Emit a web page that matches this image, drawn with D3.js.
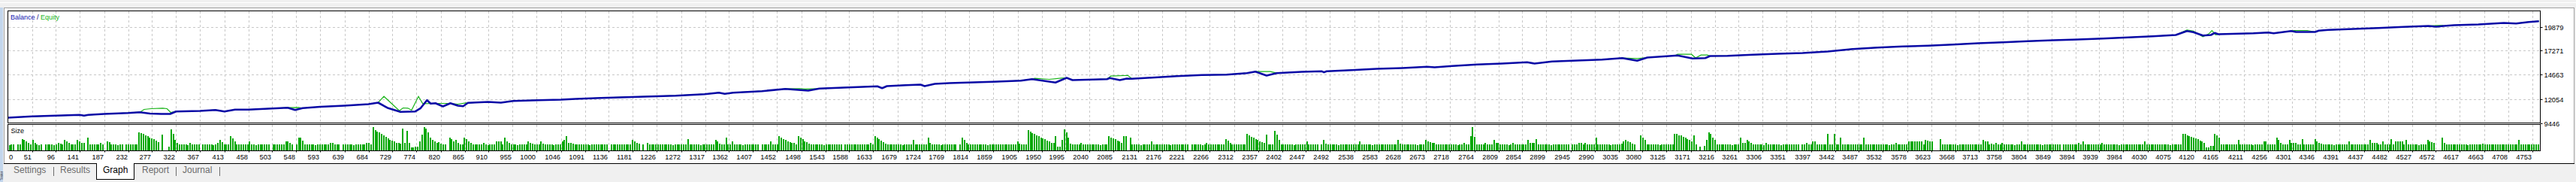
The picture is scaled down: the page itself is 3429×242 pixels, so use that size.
<!DOCTYPE html>
<html>
<head>
<meta charset="utf-8">
<script src="https://cdn.jsdelivr.net/npm/d3@7"></script>
<style>
body { margin: 0; background: #f0f0f0; overflow: hidden; }
text { font-family: "Liberation Sans", Arial, sans-serif; }
</style>
</head>
<body>
<svg id="chart"></svg>
<script>
const W = 3429, H = 242;

// trade numbers shown under the grid
const xTicks = [0, 51, 96, 141, 187, 232, 277, 322, 367, 413, 458, 503, 548, 593, 639, 684, 729, 774, 820, 865, 910, 955, 1000, 1046, 1091, 1136, 1181, 1226, 1272, 1317, 1362, 1407, 1452, 1498, 1543, 1588, 1633, 1679, 1724, 1769, 1814, 1859, 1905, 1950, 1995, 2040, 2085, 2131, 2176, 2221, 2266, 2312, 2357, 2402, 2447, 2492, 2538, 2583, 2628, 2673, 2718, 2764, 2809, 2854, 2899, 2945, 2990, 3035, 3080, 3125, 3171, 3216, 3261, 3306, 3351, 3397, 3442, 3487, 3532, 3578, 3623, 3668, 3713, 3758, 3804, 3849, 3894, 3939, 3984, 4030, 4075, 4120, 4165, 4211, 4256, 4301, 4346, 4391, 4437, 4482, 4527, 4572, 4617, 4663, 4708, 4753];
const yTicks = [9446, 12054, 14663, 17271, 19879];

// balance curve [trade, balance]
const balance = [
	[0, 10000], [51, 10155], [96, 10237], [141, 10318], [149, 10237], [157, 10318], [187, 10424],
	[232, 10530], [254, 10612], [273, 10465], [294, 10424], [311, 10424], [322, 10693], [367, 10750],
	[396, 10856], [413, 10693], [433, 10889], [458, 10889], [503, 11019], [532, 11100], [546, 10856],
	[560, 11052], [593, 11198], [639, 11320], [684, 11484], [702, 11647], [721, 11052], [744, 10644],
	[772, 10693], [782, 11052], [794, 11915], [801, 11541], [810, 11589], [824, 11239], [838, 11589],
	[852, 11320], [862, 11263], [871, 11622], [909, 11728], [933, 11647], [956, 11834], [1003, 11915],
	[1046, 11972], [1074, 12054], [1121, 12160], [1168, 12241], [1215, 12323], [1262, 12404],
	[1316, 12568], [1343, 12730], [1354, 12600], [1370, 12730], [1424, 12893], [1468, 13138],
	[1511, 12950], [1532, 13170], [1586, 13301], [1641, 13415], [1650, 13219], [1659, 13439],
	[1695, 13545], [1722, 13602], [1730, 13439], [1749, 13684], [1776, 13765], [1857, 13904],
	[1911, 14034], [1932, 14197], [1976, 13822], [1997, 14336], [2008, 14091], [2073, 14197],
	[2078, 14311], [2097, 14091], [2110, 14254], [2119, 14230], [2157, 14360], [2204, 14523],
	[2251, 14638], [2298, 14686], [2336, 14850], [2352, 15013], [2373, 14581], [2392, 14850],
	[2439, 14988], [2477, 15045], [2481, 14937], [2486, 15045], [2533, 15176], [2580, 15314],
	[2628, 15396], [2675, 15534], [2689, 15477], [2722, 15616], [2769, 15779], [2816, 15885],
	[2863, 16023], [2877, 15885], [2910, 16105], [2957, 16211], [3004, 16317], [3042, 16480],
	[3070, 16186], [3089, 16537], [3146, 16757], [3174, 16431], [3198, 16480], [3207, 16700],
	[3240, 16724], [3287, 16838], [3334, 16944], [3381, 17026], [3428, 17189], [3475, 17457],
	[3522, 17621], [3569, 17735], [3617, 17816], [3664, 17947], [3711, 18085], [3758, 18191],
	[3805, 18305], [3852, 18411], [3899, 18493], [3946, 18599], [3993, 18713], [4040, 18843],
	[4083, 18982], [4104, 19414], [4116, 19283], [4134, 18925], [4149, 18982], [4156, 19202],
	[4163, 19063], [4229, 19169], [4257, 19251], [4267, 19169], [4300, 19414], [4309, 19308],
	[4345, 19308], [4352, 19446], [4370, 19528], [4417, 19634], [4464, 19739], [4511, 19854],
	[4558, 19960], [4573, 19879], [4587, 19960], [4606, 20041], [4652, 20123], [4700, 20286],
	[4723, 20229], [4747, 20392], [4766, 20473]
];

// stretches where equity leaves the balance curve [trade, equity]
const equityParts = [
	[[254, 10612], [262, 10913], [275, 10995], [297, 11052], [305, 10995], [312, 10587], [322, 10693]],
	[[532, 11100], [552, 11130], [560, 11052]],
	[[697, 11589], [702, 11647], [713, 12323], [742, 10775], [749, 11076], [758, 11052], [765, 10832],
	 [778, 12323], [786, 11541], [810, 11565], [838, 11565], [852, 11483], [867, 11622]],
	[[1468, 13138], [1495, 13170], [1505, 13120], [1532, 13170]],
	[[1932, 14197], [1937, 14279], [1964, 14173], [1987, 14311], [1997, 14336]],
	[[2073, 14197], [2080, 14523], [2112, 14600], [2120, 14240]],
	[[2352, 15013], [2380, 15013], [2392, 14850]],
	[[3042, 16480], [3070, 16430], [3089, 16537]],
	[[3141, 16740], [3146, 16887], [3172, 16887], [3180, 16500], [3190, 16805], [3202, 16805], [3207, 16700]],
	[[4083, 18982], [4104, 19528], [4116, 19400], [4134, 18794], [4145, 19100], [4151, 19469], [4158, 19000], [4163, 19063]],
	[[4300, 19414], [4305, 19470], [4330, 19470], [4345, 19308]],
	[[4558, 19960], [4575, 20016], [4585, 20016], [4587, 19960]]
];

// lot size per bar, one bar every 4 trades, char index = hundredths of a lot
const lotChars = "0123456789abcdefghijklmnopqrstuvwxyzABCDEFGHIJ";
const sizeStep = 4;
const sizeCodes = [
	"aa9ab0ablj", "gebjea9a0a", "aba9adcajg", "ebabjhed0n", "babaada0gf", "aab9aa0aba", "abaywusqom", "kif0t007Du",
	"jebaab9daa", "ab0aabaa9a", "ejfaabqmgb", "aabaagab9a", "abaab0abaa", "abhhea0ann", "ibaaba9aba", "aabddbaa0a",
	"abaa9abaab", "edaHCzxusp", "mjigedcEeA", "d5577gtHFy", "njhefcba0o", "lhjdbaolhe", "baabada9ab", "ahhgbnheab",
	"a9abaageca", "bagcaaba9a", "abhjqedcbb", "aabaa9abab", "abaa0abaab", "abaabjhec0", "a0dabaabaa", "abaa9abaab",
	"alabaab9aa", "aabajgcaan", "abhbaab9aa", "babaa0abab", "gbaaqoljhf", "edbqnkhfca", "abaab9abaa", "abaa0abaab",
	"abaabaadaq", "olifcabaab", "aa9abaajba", "abaandabaa", "9abaabaa0a", "ojebaabaab", "aa9abaabaa", "abaabahcaa",
	"bBzwusqomk", "igeeq77jDx", "ncabaadaba", "abaab9abaq", "omkigeqq0n", "abaa9abaah", "abaabaab9a", "bbaabaa0ab",
	"aab9aeabaa", "abaaliebaa", "abaaurpnlj", "hfdtbabAtj", "baabaa9aba", "abgaabaa0a", "jcabaab9aa", "abaabaahab",
	"aab9abaaba", "abaaajcaba", "abaa9abajg", "fedbaabaab", "aab9aaeabq", "Ipbaaaeaba", "jeebaab9ae", "abaabajeee",
	"lbaabaa9ab", "aabaab0aba", "edaeaabaoa", "abaab9abab", "chjhfca00r", "njabaaba9a", "abaabvusrp", "nljgrb0608",
	"jxuojbabaa", "ab9abaoedj", "hebaaba9ea", "abaab9aaba", "abaa0abeab", "ggaabaavba", "ubanbbabba", "abaaobaaba",
	"babaab9abe", "abaabhhhgh", "hgajihg000", "kbaabaab9a", "abaabaabab", "jggbcadbae", "abaab9aaha", "babaabaa9a",
	"abaabab0ab", "abaabeagab", "aabaabeaba", "abaa9abaab", "abaabagaba", "abaabaab9a", "abbbvusqpo", "mkige5588u",
	"snabaabaab", "jbaabaa9ab", "abhhabaanj", "ebbbjeeeaa", "kabaabkhec", "abaab9abaa", "abgaabaaba", "abjeeeabha",
	"ablahhhhaj", "abaab9aabj", "hfe000neab", "abaabaab9a", "abaabcabaa", "baabaabaab", "abjaabaaba", "ab"
].join("");

const tabs = ["Settings", "Results", "Graph", "Report", "Journal"];
const activeTab = "Graph";

// layout
const box = { l: 10.5, r: 3381.5, t: 14.5, mb: 163.5, st: 165.5, sb: 200.5 };
const gridStep = 32;

const svg = d3.select("#chart").attr("width", W).attr("height", H);

const x = d3
	.scaleLinear()
	.domain([xTicks[1], xTicks[xTicks.length - 1]])
	.range([box.l + gridStep, box.l + gridStep * (xTicks.length - 1)]);
const y = d3
	.scaleLinear()
	.domain([yTicks[0], yTicks[yTicks.length - 1]])
	.range([box.mb, box.mb - gridStep * (yTicks.length - 1)]);
const sizeY = d3.scaleLinear().domain([0, 0.44]).range([box.sb - 1, box.sb - 32]);

// window frame
svg.append("rect").attr("width", W).attr("height", H).attr("fill", "#f0f0f0");
svg.append("rect").attr("x", 5.5).attr("y", 10.5).attr("width", 3421).attr("height", 207)
	.attr("fill", "#fff").attr("stroke", "#a0a0a0");
svg.append("line").attr("x1", 0).attr("x2", W).attr("y1", 3.5).attr("y2", 3.5).attr("stroke", "#fff");

const defs = svg.append("defs");
defs.append("clipPath").attr("id", "clipMain").append("rect")
	.attr("x", box.l).attr("y", box.t).attr("width", box.r - box.l).attr("height", box.mb - box.t);
defs.append("clipPath").attr("id", "clipSize").append("rect")
	.attr("x", box.l + 0.5).attr("y", box.st).attr("width", box.r - box.l - 1).attr("height", box.sb - box.st);

// side bar of the terminal window with its caption
svg.append("rect").attr("x", 0).attr("y", 10).attr("width", 4).attr("height", H - 10).attr("fill", "#c3d6ec");
svg.append("text").attr("transform", "translate(3.6,240) rotate(-90)")
	.attr("font-size", 4.5).attr("fill", "#333").text("Tester");

// grid
const grid = svg.append("g").attr("stroke", "#c8c8c8").attr("stroke-dasharray", "3,3").attr("shape-rendering", "crispEdges");
xTicks.slice(1).forEach((t) => {
	const gx = Math.round(x(t)) + 0.5;
	grid.append("line").attr("x1", gx).attr("x2", gx).attr("y1", box.t).attr("y2", box.mb);
	grid.append("line").attr("x1", gx).attr("x2", gx).attr("y1", box.st).attr("y2", box.sb);
});
yTicks.slice(1).forEach((v) => {
	const gy = Math.round(y(v)) + 0.5;
	grid.append("line").attr("x1", box.l).attr("x2", box.r).attr("y1", gy).attr("y2", gy);
});

// size bars
const bars = [];
for (let i = 0; i < sizeCodes.length; i++) {
	bars.push({ trade: i * sizeStep, lots: lotChars.indexOf(sizeCodes[i]) / 100 });
}
svg.append("g")
	.attr("clip-path", "url(#clipSize)")
	.selectAll("rect")
	.data(bars.filter((d) => d.lots > 0))
	.join("rect")
	.attr("x", (d) => Math.floor(x(d.trade)))
	.attr("width", 2)
	.attr("y", (d) => Math.round(sizeY(d.lots)))
	.attr("height", (d) => Math.round(sizeY(0)) - Math.round(sizeY(d.lots)))
	.attr("fill", "#08a808")
	.attr("shape-rendering", "crispEdges");

// equity follows balance except where a part overrides it
let equity = balance.slice();
equityParts.forEach((part) => {
	const a = part[0][0], b = part[part.length - 1][0];
	equity = equity.filter((d) => d[0] < a || d[0] > b).concat(part);
});
equity.sort((p, q) => p[0] - q[0]);

const line = d3.line().x((d) => x(d[0])).y((d) => y(d[1]));
const lines = svg.append("g").attr("clip-path", "url(#clipMain)");
lines.append("path").datum(equity).attr("d", line)
	.attr("fill", "none").attr("stroke", "#18b418").attr("stroke-width", 1.2);
lines.append("path").datum(balance).attr("d", line)
	.attr("fill", "none").attr("stroke", "#0a0aa6").attr("stroke-width", 2.6).attr("stroke-linejoin", "round");

// panel borders
svg.append("rect").attr("x", box.l).attr("y", box.t).attr("width", box.r - box.l).attr("height", box.mb - box.t)
	.attr("fill", "none").attr("stroke", "#000").attr("shape-rendering", "crispEdges");
svg.append("rect").attr("x", box.l).attr("y", box.st).attr("width", box.r - box.l).attr("height", box.sb - box.st)
	.attr("fill", "none").attr("stroke", "#000").attr("shape-rendering", "crispEdges");

// titles
const legend = svg.append("text").attr("x", 14).attr("y", 26).attr("font-size", 9);
legend.append("tspan").text("Balance").attr("fill", "#1212b0");
legend.append("tspan").text(" / ").attr("fill", "#000080");
legend.append("tspan").text("Equity").attr("fill", "#18b418");
svg.append("text").attr("x", 14.5).attr("y", 177).attr("font-size", 9).attr("fill", "#000").text("Size");

// axis labels
svg.append("g").selectAll("text").data(xTicks).join("text")
	.attr("x", (d, i) => (i === 0 ? box.l + 1.5 : Math.round(x(d)) - 1))
	.attr("y", 211.5)
	.attr("text-anchor", (d, i) => (i === 0 ? "start" : "end"))
	.attr("font-size", 9.3)
	.attr("fill", "#000")
	.text((d) => d);
svg.append("g").selectAll("line").data(xTicks.slice(1)).join("line")
	.attr("x1", (d) => Math.round(x(d)) + 0.5).attr("x2", (d) => Math.round(x(d)) + 0.5)
	.attr("y1", box.sb).attr("y2", box.sb + 2).attr("stroke", "#000");
svg.append("g").selectAll("text").data(yTicks).join("text")
	.attr("x", box.r + 5)
	.attr("y", (d) => Math.round(y(d)) + 3.5)
	.attr("font-size", 9.3)
	.attr("fill", "#000")
	.text((d) => d);
svg.append("g").selectAll("line").data(yTicks).join("line")
	.attr("x1", box.r).attr("x2", box.r + 3)
	.attr("y1", (d) => Math.round(y(d)) + 0.5).attr("y2", (d) => Math.round(y(d)) + 0.5)
	.attr("stroke", "#000");

// tab strip
svg.append("line").attr("x1", 5).attr("x2", 3427).attr("y1", 217.5).attr("y2", 217.5).attr("stroke", "#000");
const tabX = [18, 80, 137, 189, 243];
const sepX = [71, 234, 292];
svg.append("rect").attr("x", 128.5).attr("y", 217.5).attr("width", 50).attr("height", 21)
	.attr("fill", "#fff").attr("stroke", "#000");
svg.append("line").attr("x1", 129).attr("x2", 178).attr("y1", 217.5).attr("y2", 217.5).attr("stroke", "#fff");
svg.append("g").selectAll("text").data(tabs).join("text")
	.attr("x", (d, i) => tabX[i])
	.attr("y", 230)
	.attr("font-size", 12)
	.attr("fill", (d) => (d === activeTab ? "#000" : "#6d6d6d"))
	.text((d) => d);
svg.append("g").selectAll("line").data(sepX).join("line")
	.attr("x1", (d) => d + 0.5).attr("x2", (d) => d + 0.5)
	.attr("y1", 222).attr("y2", 234).attr("stroke", "#6d6d6d");
</script>
</body>
</html>
